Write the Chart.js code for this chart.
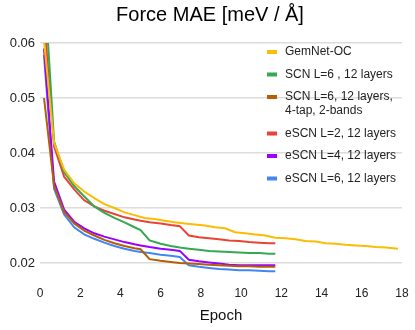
<!DOCTYPE html>
<html lang="en">
<head>
  <meta charset="UTF-8">
  <title>Force MAE [meV / Å]</title>
  <script src="https://cdn.jsdelivr.net/npm/chart.js"></script>
  <style>
    html, body {
      margin: 0;
      padding: 0;
      background: #fff;
    }
    #wrap {
      width: 415px;
      height: 330px;
    }
  </style>
</head>
<body>
  <div id="wrap"><canvas id="maeChart" width="415" height="330"></canvas></div>

  <script>
    // epochs for the 12-epoch runs, and for the longer GemNet-OC run
    const epochs = [0.2, 0.7, 1.2, 1.7, 2.2, 2.7, 3.2, 3.7, 4.2, 4.7, 5.0, 5.45, 6.0, 6.5, 6.95,
      7.4, 7.9, 8.4, 8.9, 9.4, 9.9, 10.4, 10.9, 11.4, 11.7];
    const gemnetEpochs = [0.2, 0.7, 1.2, 1.7, 2.2, 2.7, 3.2, 3.7, 4.2, 4.7, 5.2, 5.7, 6.2, 6.7, 7.2,
      7.7, 8.2, 8.7, 9.2, 9.7, 10.2, 10.7, 11.2, 11.7, 12.2, 12.7, 13.2, 13.7, 14.2, 14.7,
      15.2, 15.7, 16.2, 16.7, 17.2, 17.8];

    const gemnetOC = [0.0604, 0.0418, 0.0370, 0.0345, 0.0330, 0.0318, 0.0307, 0.0300, 0.0292, 0.0287,
      0.0282, 0.0280, 0.0277, 0.0274, 0.0272, 0.0270, 0.0268, 0.0265, 0.0263, 0.0256,
      0.0254, 0.0252, 0.0250, 0.0246, 0.0245, 0.0243, 0.0240, 0.0239, 0.0236, 0.0235,
      0.0233, 0.0232, 0.0231, 0.0229, 0.0228, 0.0226];
    const scnL6 = [0.0719, 0.0421, 0.0365, 0.0340, 0.0321, 0.0303, 0.0291, 0.0282, 0.0274, 0.0265,
      0.0260, 0.0241, 0.0235, 0.0231, 0.0228, 0.0226, 0.0224, 0.0222, 0.0221, 0.0220,
      0.0219, 0.0218, 0.0218, 0.0217, 0.0217];
    const scnL6Tap = [0.0500, 0.0340, 0.0293, 0.0272, 0.0259, 0.0250, 0.0242, 0.0236, 0.0231, 0.0227,
      0.0225, 0.0207, 0.0204, 0.0202, 0.0200, 0.0199, 0.0198, 0.0197, 0.0196, 0.0195,
      0.0194, 0.0194, 0.0193, 0.0193, 0.0193];
    const escnL2 = [0.0647, 0.0412, 0.0357, 0.0334, 0.0314, 0.0303, 0.0295, 0.0289, 0.0283, 0.0279,
      0.0277, 0.0274, 0.0272, 0.0269, 0.0267, 0.0250, 0.0247, 0.0245, 0.0243, 0.0241,
      0.0240, 0.0238, 0.0237, 0.0236, 0.0236];
    const escnL4 = [0.0590, 0.0348, 0.0297, 0.0275, 0.0263, 0.0254, 0.0248, 0.0243, 0.0238, 0.0234,
      0.0232, 0.0229, 0.0226, 0.0224, 0.0222, 0.0206, 0.0203, 0.0201, 0.0199, 0.0197,
      0.0196, 0.0196, 0.0196, 0.0196, 0.0196];
    const escnL6 = [0.0578, 0.0335, 0.0288, 0.0265, 0.0252, 0.0244, 0.0237, 0.0231, 0.0226, 0.0222,
      0.0220, 0.0218, 0.0215, 0.0213, 0.0211, 0.0196, 0.0193, 0.0191, 0.0189, 0.0188,
      0.0187, 0.0187, 0.0186, 0.0185, 0.0185];

    const yTickValues = [0.02, 0.03, 0.04, 0.05, 0.06];

    const seriesLabels = [
      ['GemNet-OC'],
      ['SCN L=6 , 12 layers'],
      ['SCN L=6, 12 layers,', '4-tap, 2-bands'],
      ['eSCN L=2, 12 layers'],
      ['eSCN L=4, 12 layers'],
      ['eSCN L=6, 12 layers']
    ];
    const seriesColors = ['#fbbc04', '#34a853', '#b45f06', '#ea4335', '#9900ff', '#4285f4'];

    const fontFamily = '"Liberation Sans", Arial, sans-serif';

    function toPoints(xs, ys) {
      return ys.map((v, i) => ({ x: xs[i], y: v }));
    }

    function createDataset(i, xs, ys) {
      return {
        label: seriesLabels[i].join(' '),
        data: toPoints(xs, ys),
        borderColor: seriesColors[i],
        backgroundColor: seriesColors[i],
        borderWidth: 2,
        pointRadius: 0,
        fill: false,
        tension: 0
      };
    }

    // legend drawn over the plot, top right, like the original
    const legendOverlay = {
      id: 'legendOverlay',
      afterDraw(chart) {
        const c = chart.ctx;
        c.save();
        c.font = '12px ' + fontFamily;
        c.textBaseline = 'middle';
        let y = 52;
        seriesLabels.forEach((lines, i) => {
          c.fillStyle = seriesColors[i];
          c.fillRect(267, y - 2, 10, 4);
          c.fillStyle = '#222';
          lines.forEach((t, k) => c.fillText(t, 285, y + k * 14));
          y += 22.5 + (lines.length - 1) * 14;
        });
        c.restore();
      }
    };

    const topTitle = {
      id: 'topTitle',
      afterDraw(chart) {
        const c = chart.ctx;
        c.save();
        c.font = '20px ' + fontFamily;
        c.fillStyle = '#000';
        c.textAlign = 'center';
        c.textBaseline = 'middle';
        c.fillText('Force MAE [meV / Å]', 210, 15);
        c.restore();
      }
    };

    const ctx = document.getElementById('maeChart').getContext('2d');
    new Chart(ctx, {
      type: 'line',
      data: {
        datasets: [
          createDataset(0, gemnetEpochs, gemnetOC),
          createDataset(1, epochs, scnL6),
          createDataset(2, epochs, scnL6Tap),
          createDataset(3, epochs, escnL2),
          createDataset(4, epochs, escnL4),
          createDataset(5, epochs, escnL6)
        ]
      },
      options: {
        responsive: false,
        animation: false,
        layout: { padding: { top: 43, right: 13, bottom: 0, left: 0 } },
        plugins: {
          legend: { display: false },
          tooltip: { enabled: false }
        },
        scales: {
          x: {
            type: 'linear',
            min: 0,
            max: 18,
            grid: { display: false, drawTicks: false },
            border: { display: false },
            ticks: {
              stepSize: 2,
              padding: 1,
              color: '#222',
              font: { family: fontFamily, size: 12 }
            },
            title: {
              display: true,
              text: 'Epoch',
              color: '#111',
              padding: { top: 6, bottom: 5 },
              font: { family: fontFamily, size: 15 }
            },
            afterFit(scale) { scale.height = 45; }
          },
          y: {
            min: 0.016,
            max: 0.06,
            afterBuildTicks(scale) {
              scale.ticks = yTickValues.map(v => ({ value: v }));
            },
            grid: { color: '#dcdcdc', lineWidth: 1.5, drawTicks: false },
            border: { display: false },
            ticks: {
              padding: 5,
              color: '#222',
              callback: v => v.toFixed(2),
              font: { family: fontFamily, size: 13 }
            },
            afterFit(scale) { scale.width = 40; }
          }
        }
      },
      plugins: [legendOverlay, topTitle]
    });
  </script>
</body>
</html>
